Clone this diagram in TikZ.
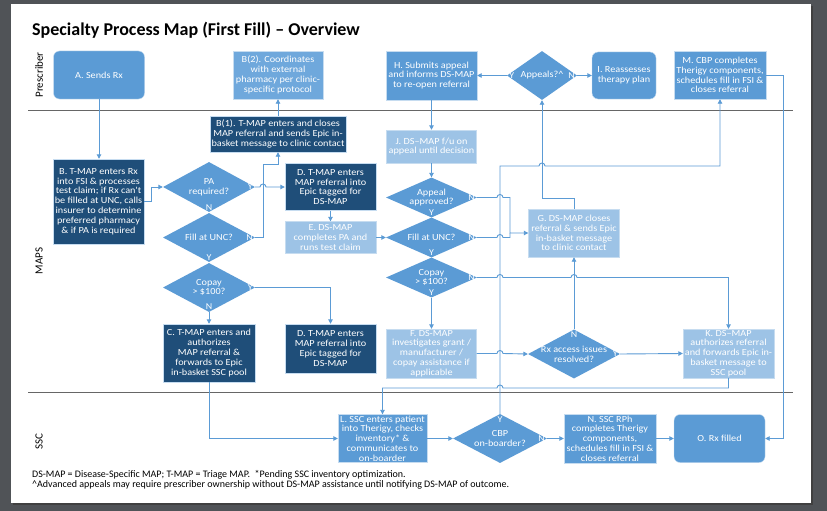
\documentclass[tikz,border=0pt]{standalone}
\usepackage{fontspec}
\setmainfont{Carlito}
\newfontfamily\boxfont{Carlito}[FakeStretch=1.1]
\usepackage{tikz}
\usetikzlibrary{arrows.meta,shapes.geometric,calc}

\definecolor{dkblue}{HTML}{1F4E79}
\definecolor{mdblue}{HTML}{5B9BD5}
\definecolor{lgblue}{HTML}{9DC3E6}
\definecolor{bbblue}{HTML}{6FA8DC}
\definecolor{pagegrey}{HTML}{505357}

\tikzset{
  box/.style={rectangle, draw=white!65!mdblue, line width=0.4pt, text=white, align=center,
    inner sep=0pt, font=\boxfont\fontsize{9.3}{9.8}\selectfont},
  dkbox/.style={box, fill=dkblue},
  mdbox/.style={box, fill=mdblue},
  lgbox/.style={box, fill=lgblue},
  rbox/.style={mdbox, rounded corners=6pt},
  dia/.style={diamond, fill=mdblue, text=white, align=center, inner sep=-7pt,
    font=\boxfont\fontsize{9.3}{9.8}\selectfont},
  lbl/.style={text=white, inner sep=2pt, font=\boxfont\fontsize{9}{9.8}\selectfont},
  conn/.style={draw=mdblue, line width=0.9pt},
  flow/.style={conn, -{Triangle[length=4.5pt,width=4.5pt]}},
  lane/.style={draw=black!60, line width=0.9pt}
}

\begin{document}
\begin{tikzpicture}[x=1pt, y=-1pt]
    \useasboundingbox (0,0) rectangle (827,511);
    \fill[pagegrey] (0,0) rectangle (827,511);
    \fill[black!75] (13,6) rectangle (813,505);
    \fill[white] (11,4) rectangle (811,503);

    \node[anchor=base west, inner sep=0pt, font=\fontsize{18}{21}\selectfont\bfseries] (title) at (32,36)
        {Specialty Process Map (First Fill) – Overview};

    \draw[lane] (28,110) -- (793,110);
    \draw[lane] (28,392) -- (793,392);
    \node[rotate=90, font=\fontsize{11}{13}\selectfont] (lnpre) at (39,75) {Prescriber};
    \node[rotate=90, font=\fontsize{11}{13}\selectfont] (lnmaps) at (39,261) {MAPS};
    \node[rotate=90, font=\fontsize{11}{13}\selectfont] (lnssc) at (39,442) {SSC};

    % prescriber lane
    \node[rbox, minimum width=91pt, minimum height=48pt] (A) at (99,75) {A. Sends Rx};
    \node[box, fill=bbblue, minimum width=90pt, minimum height=48pt] (B2) at (278,75)
        {B(2). Coordinates\\with external\\pharmacy per clinic-\\specific protocol};
    \node[mdbox, minimum width=91pt, minimum height=49pt] (H) at (431.5,75.5)
        {H. Submits appeal\\and informs DS-MAP\\to re-open referral};
    \node[dia, minimum width=70pt, minimum height=49pt, aspect=1.43] (appeals) at (542,75.5)
        {Appeals?\textasciicircum};
    \node[rbox, minimum width=64pt, minimum height=47pt] (I) at (624,75.5)
        {I. Reassesses\\therapy plan};
    \node[mdbox, minimum width=92pt, minimum height=48pt] (M) at (720,75)
        {M. CBP completes\\Therigy components,\\schedules fill in FSI \&\\closes referral};

    % MAPS lane
    \node[dkbox, minimum width=91pt, minimum height=85pt] (B) at (98.5,201.5)
        {B. T-MAP enters Rx\\into FSI \& processes\\test claim; if Rx can't\\be filled at UNC, calls\\insurer to determine\\preferred pharmacy\\\& if PA is required};
    \node[dia, minimum width=92pt, minimum height=50pt, aspect=1.84] (pa) at (209,187)
        {PA\\required?};
    \node[dia, minimum width=92pt, minimum height=49pt, aspect=1.88] (fill) at (209,237.5)
        {Fill at UNC?};
    \node[dia, minimum width=92pt, minimum height=49pt, aspect=1.88] (copay) at (209,287.5)
        {Copay\\> \$100?};
    \node[dkbox, minimum width=136pt, minimum height=36pt] (B1) at (278,134)
        {B(1). T-MAP enters and closes\\MAP referral and sends Epic in-\\basket message to clinic contact};
    \node[dkbox, minimum width=91pt, minimum height=47pt] (D) at (330.5,187)
        {D. T-MAP enters\\MAP referral into\\Epic tagged for\\DS-MAP};
    \node[lgbox, minimum width=91pt, minimum height=32pt] (E) at (330.5,237.5)
        {E. DS-MAP\\completes PA and\\runs test claim};
    \node[dkbox, minimum width=92pt, minimum height=58pt] (C) at (209,353)
        {C. T-MAP enters and\\authorizes\\MAP referral \&\\forwards to Epic\\in-basket SSC pool};
    \node[dkbox, minimum width=91pt, minimum height=49pt] (D2) at (330.5,348.5)
        {D. T-MAP enters\\MAP referral into\\Epic tagged for\\DS-MAP};
    \node[lgbox, minimum width=90pt, minimum height=33pt] (J) at (431.5,146.5)
        {J. DS–MAP f/u on\\appeal until decision};
    \node[dia, minimum width=91pt, minimum height=40pt, aspect=2.3] (appr) at (431.5,197.5)
        {Appeal\\approved?};
    \node[dia, minimum width=91pt, minimum height=40pt, aspect=2.3] (fill2) at (431.5,237.5)
        {Fill at UNC?};
    \node[dia, minimum width=91pt, minimum height=40pt, aspect=2.3] (copay2) at (431.5,277.5)
        {Copay\\> \$100?};
    \node[lgbox, minimum width=91pt, minimum height=48pt] (G) at (574,233)
        {G. DS-MAP closes\\referral \& sends Epic\\in-basket message\\to clinic contact};
    \node[lgbox, minimum width=90pt, minimum height=49pt] (F) at (431.5,353.5)
        {F. DS-MAP\\investigates grant /\\manufacturer /\\copay assistance if\\applicable};
    \node[dia, minimum width=92pt, minimum height=49pt, aspect=1.88] (rx) at (574,354)
        {Rx access issues\\resolved?};
    \node[lgbox, minimum width=91pt, minimum height=49pt] (K) at (728.5,353.5)
        {K. DS–MAP\\authorizes referral\\and forwards Epic in-\\basket message to\\SSC pool};

    % SSC lane
    \node[mdbox, minimum width=89pt, minimum height=48pt] (L) at (382.5,438.5)
        {L. SSC enters patient\\into Therigy, checks\\inventory* \&\\communicates to\\on-boarder};
    \node[dia, minimum width=94pt, minimum height=49pt, aspect=1.92] (cbp) at (500,438.5)
        {CBP\\on-boarder?};
    \node[mdbox, minimum width=92pt, minimum height=49pt] (N) at (610,438.5)
        {N. SSC RPh\\completes Therigy\\components,\\schedules fill in FSI \&\\closes referral};
    \node[rbox, minimum width=91pt, minimum height=48pt] (O) at (719.5,438.5) {O. Rx filled};

    % diamond labels with no connector
    \node[lbl, anchor=south] (paN) at (pa.south) {N};
    \node[lbl, anchor=south] (fillY) at (fill.south) {Y};
    \node[lbl, anchor=south] (apprY) at (appr.south) {Y};
    \node[lbl, anchor=south] (fill2Y) at (fill2.south) {Y};

    % connectors
    \draw[flow] (A.south) -- (A.south |- B.north);
    \draw[flow] (B.east) -- ++(7,0) |- (pa.west);
    \draw[flow] (pa.east) node[lbl, anchor=east] {Y} -- (260,187)
        arc[start angle=180, end angle=0, radius=3pt] -- (D.west);
    \draw[flow] (fill.east) node[lbl, anchor=east] {N} -- (263,237.5) -- (263,164) -| (B1.south);
    \draw[flow] (B1.north) -- (B2.south);
    \draw[flow] (copay.east) node[lbl, anchor=east] {Y} -| (D2.north);
    \draw[flow] (copay.south) node[lbl, anchor=south] {N} -- (C.north);
    \draw[flow] (D.south) -- (E.north);
    \draw[flow] (E.east) -- (fill2.west);
    \draw[flow] (H.south) -- (J.north);
    \draw[flow] (J.south) -- (appr.north);
    \draw[flow] (appr.east) node[lbl, anchor=east] {N} -- (497,197.5)
        arc[start angle=180, end angle=0, radius=3pt] -- (510,197.5) |- (G.west);
    \draw[conn] (fill2.east) node[lbl, anchor=east] {N} -- (497,237.5)
        arc[start angle=180, end angle=0, radius=3pt] -- (510,237.5) -- (510,233);
    \draw[flow] (copay2.east) node[lbl, anchor=east] {N} -- (497,277.5)
        arc[start angle=180, end angle=0, radius=3pt] -- (571,277.5)
        arc[start angle=180, end angle=0, radius=3pt] -| (K.north);
    \draw[flow] (copay2.south) node[lbl, anchor=south] {Y} -- (F.north);
    \draw[flow] (F.east) -- (497,353.5)
        arc[start angle=180, end angle=0, radius=3pt] -- (rx.west);
    \draw[flow] (rx.east) node[lbl, anchor=east] {Y} -- (K.west);
    \draw[flow] (rx.north) node[lbl, anchor=north] {N} -- (G.south);
    \draw[flow] (G.north) -- (574,198) -| (appeals.south);
    \draw[flow] (appeals.west) node[lbl, anchor=west] {Y} -- (H.east);
    \draw[flow] (appeals.east) node[lbl, anchor=east] {N} -- (I.west);
    \draw[flow] (cbp.north) node[lbl, anchor=north] {Y} -- (500,166) -- (539,166)
        arc[start angle=180, end angle=0, radius=3pt] -| (M.south);
    \draw[flow] (M.east) -- (783,75) |- (O.east);
    \draw[flow] (K.south) -- (728.5,388) -- (503,388)
        arc[start angle=0, end angle=180, radius=3pt] -| (L.north);
    \draw[flow] (C.south) |- (L.west);
    \draw[flow] (L.east) -- (cbp.west);
    \draw[flow] (cbp.east) node[lbl, anchor=east] {N} -- (N.west);
    \draw[flow] (N.east) -- (O.west);

    \node[anchor=base west, inner sep=0pt, font=\fontsize{10}{11}\selectfont] (note1) at (32,477)
        {DS-MAP = Disease-Specific MAP; T-MAP = Triage MAP.\ \ *Pending SSC inventory optimization.};
    \node[anchor=base west, inner sep=0pt, font=\fontsize{10}{11}\selectfont] (note2) at (32,487.5)
        {\textasciicircum Advanced appeals may require prescriber ownership without DS-MAP assistance until notifying DS-MAP of outcome.};
\end{tikzpicture}
\end{document}
